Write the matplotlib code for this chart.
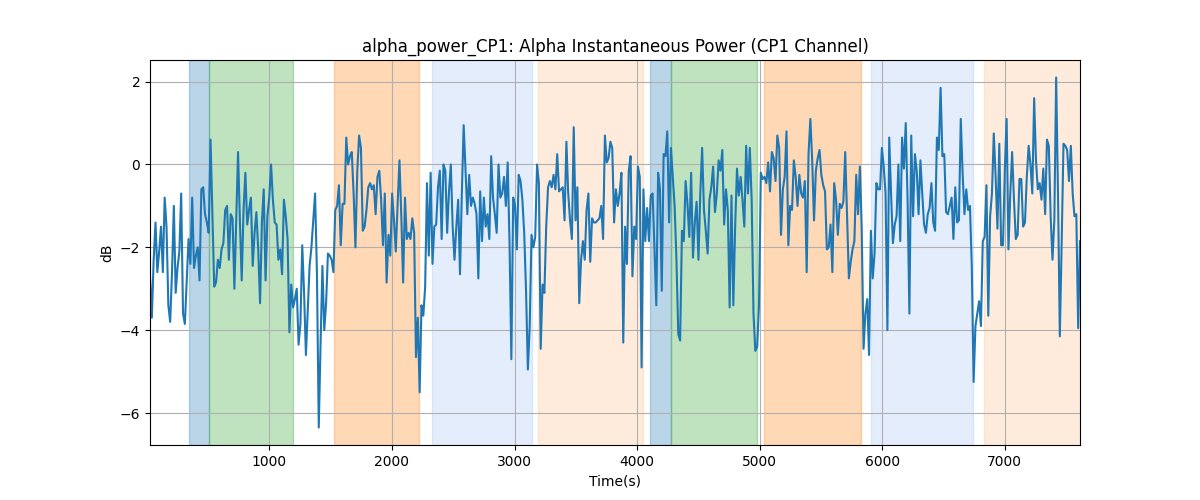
import numpy as np
import matplotlib
matplotlib.use('Agg')
import matplotlib.pyplot as plt

# alpha power (dB), one value per sample
alpha_db = [
    # ~0-1100 s
    -2.7, -3.7, -2.3, -1.4, -2.6, -2.1, -1.5, -2.6, -0.8, -1.5,
    -3.4, -3.8, -2.6, -1.0, -3.1, -2.5, -2.1, -0.7, -3.6, -3.85,
    -2.8, -1.8, -2.4, -0.8, -2.5, -2.2, -2.0, -2.8, -0.6, -0.55,
    -1.2, -1.4, -1.65, 0.6, -1.2, -2.95, -2.85, -2.3, -2.5, -2.05,
    -1.9, -1.1, -1.0, -2.3, -1.2, -1.3, -3.0, -1.35, 0.3, -1.35,
    -2.8, -1.1, -0.2, -1.45, -1.1, -0.8, -2.45, -1.65, -1.15, -2.05,
    -3.35,
    # ~1100-2000 s
    -1.4, -0.6, -2.8, -1.25, -0.8, 0.0, -0.85, -1.4, -1.45, -2.3,
    -2.05, -2.65, -0.85, -1.25, -1.8, -4.05, -2.9, -3.45, -3.25, -3.0,
    -4.35, -3.85, -1.95, -3.1, -4.6, -3.55, -2.45, -2.0, -1.35, -0.7,
    -2.6, -6.35, -4.3, -2.45, -4.0, -3.35, -2.15, -2.2, -2.3, -2.6,
    -1.1, -1.0, -0.5, -1.95, -0.95, -0.95, 0.65, 0.0, 0.2, 0.3,
    -0.7, -2.0, -0.15, 0.7, 0.4, -1.6, -1.5, -1.1, -0.55, -0.45,
    -0.6, -0.5,
    # ~2000-2900 s
    -1.2, -0.3, -0.15, -0.85, -1.95, -0.7, -2.85, -1.7, -2.2, -0.7,
    -1.35, -2.1, -0.95, 0.1, -1.25, -2.85, -0.8, -1.8, -1.65, -1.8,
    -1.3, -1.65, -4.65, -3.7, -5.5, -3.4, -3.65, -2.95, -0.45, -2.2,
    -0.2, -2.4, -1.5, -1.45, -0.55, -0.15, -1.8, 0.0, -0.15, -1.65,
    -0.65, 0.0, -1.5, -2.3, -1.5, -0.85, -2.65, -0.7, 0.95, -0.15,
    -1.2, -0.25, -1.0, -0.8, -0.95, -1.2, -2.75, -0.65, -1.85, -0.8,
    -1.5, -1.2, -1.8, 0.2,
    # ~2900-3900 s
    -0.8, -1.2, -1.65, 0.0, -0.8, -0.7, -0.3, -1.0, 0.05, -1.9,
    -4.7, -0.8, -1.0, -2.05, -0.25, -0.4, -0.85, -1.65, -3.05, -4.95,
    -3.9, -1.7, -2.0, -1.75, 0.0, -0.45, -4.45, -2.9, -3.1, -1.5,
    -0.55, -0.4, -0.55, -0.25, -0.6, 0.25, -0.65, -0.6, -0.55, -1.35,
    0.55, -0.7, -1.35, -1.8, 0.9, -1.35, -0.55, -3.35, -2.3, -1.85,
    -2.3, -1.1, -0.7, -2.35, -1.3, -1.4, -1.4, -1.35, -1.3, -1.0,
    -1.8, 0.7, 0.05,
    # ~3900-4800 s
    0.15, 0.55, 0.4, -1.4, -0.6, -1.0, -0.7, -0.2, -4.3, -1.5,
    -2.4, -0.15, 0.2, -2.7, -1.5, -1.8, -0.05, -0.3, -4.9, -0.6,
    -1.85, -1.05, -1.85, -0.75, -0.7, -2.0, -3.4, -0.2, -0.6, -3.05,
    0.25, 0.2, 0.8, -1.4, 0.4, -0.3, -1.0, -2.3, -4.1, -4.25,
    -1.6, -1.85, -0.4, -0.95, -1.75, -0.2, -2.25, -1.4, -0.9, -2.3,
    -0.7, 0.4, -1.1, -1.6, -2.15, -0.85, -0.55, -0.05, -1.15, -0.7,
    0.1, -0.15, 0.35, -1.45,
    # ~4800-5700 s
    -0.6, -1.1, -3.45, -0.75, -3.4, -1.5, -0.1, -0.75, -0.3, -0.85,
    -1.5, 0.45, -0.7, 0.4, -0.85, -3.6, -4.5, -4.4, -3.4, -0.2,
    -0.35, -0.3, -0.45, 0.05, -0.65, 0.3, 0.15, -0.4, 0.7, 0.4,
    -1.7, -0.6, -0.3, 0.8, -1.95, -1.0, -1.1, 0.1, -0.3, -1.0,
    -0.25, -0.7, -0.8, -0.4, -2.6, 0.25, 1.1, 0.1, -1.35, -0.15,
    0.15, 0.35, -0.25, -0.5, -0.65, -2.05, -2.0, -1.45, -2.6, -0.45,
    -0.85, -1.7, -0.95, -1.05, -0.9,
    # ~5700-6700 s
    0.3, -1.2, -2.75, -2.35, -2.05, -1.85, -0.25, -1.2, -0.05, -1.55,
    -4.45, -3.6, -3.25, -4.6, -1.6, -2.75, -2.15, -0.45, -0.6, -0.6,
    0.4, -0.05, -0.7, -4.0, 0.65, -0.7, -1.9, -1.45, -1.25, 0.0,
    -1.85, 0.65, -0.1, 1.0, -0.85, -3.6, 0.7, -1.25, 0.25, -0.15,
    -1.2, 0.1, -0.7, -1.45, -1.65, -1.2, -1.05, -0.45, -1.4, -1.6,
    0.65, 0.35, 1.85, 0.2, 0.25, -1.15, -1.2, -1.0, -0.8, -1.8,
    -0.55, -1.4, -1.35, 1.1, -0.2,
    # ~6700-7600 s
    -1.2, -0.6, -1.1, -1.0, -2.45, -5.25, -3.9, -3.6, -3.3, -3.9,
    -1.85, -1.75, -0.5, -3.65, -1.25, -0.7, 0.75, -0.3, -1.55, 0.5,
    -1.95, -1.95, -0.15, 1.1, -2.05, -0.7, 0.3, -0.85, -1.8, -1.7,
    -0.35, -0.35, -1.5, -1.4, -0.3, 0.45, 0.0, -0.7, 1.6, 0.1,
    -0.6, -0.45, -0.85, -0.1, -1.2, 0.6, 0.45, -1.25, -2.3, -1.35,
    2.1, -0.7, -4.15, -1.9, 0.5, 0.45, 0.35, -0.4, 0.45, -0.7,
    -1.25, -1.2, -3.95, -1.85,
]

t_start = 25
t_end = 7615

# event epochs (start, end, colour, alpha)
epoch_start = [346, 509, 1523, 2324, 3191, 4106, 4276, 5039, 5913, 6828]
epoch_end = [509, 1196, 2218, 3142, 4049, 4276, 4979, 5829, 6744, 7621]
epoch_color = ['tab:blue', 'tab:green', 'tab:orange', 'cornflowerblue', 'tab:orange',
               'tab:blue', 'tab:green', 'tab:orange', 'cornflowerblue', 'tab:orange']
epoch_alpha = [0.3, 0.3, 0.3, 0.17, 0.15, 0.3, 0.3, 0.3, 0.17, 0.15]

time = np.linspace(t_start, t_end, len(alpha_db))

fig, ax = plt.subplots(figsize=(12, 5), dpi=100)

for s, e, c, a in zip(epoch_start, epoch_end, epoch_color, epoch_alpha):
    ax.axvspan(s, e, color=c, alpha=a)

ax.plot(time, alpha_db, color='tab:blue')
ax.set_xlim(t_start, t_end)
ax.grid(True)
ax.set_title('alpha_power_CP1: Alpha Instantaneous Power (CP1 Channel)')
ax.set_xlabel('Time(s)')
ax.set_ylabel('dB')

plt.savefig('out.png')
